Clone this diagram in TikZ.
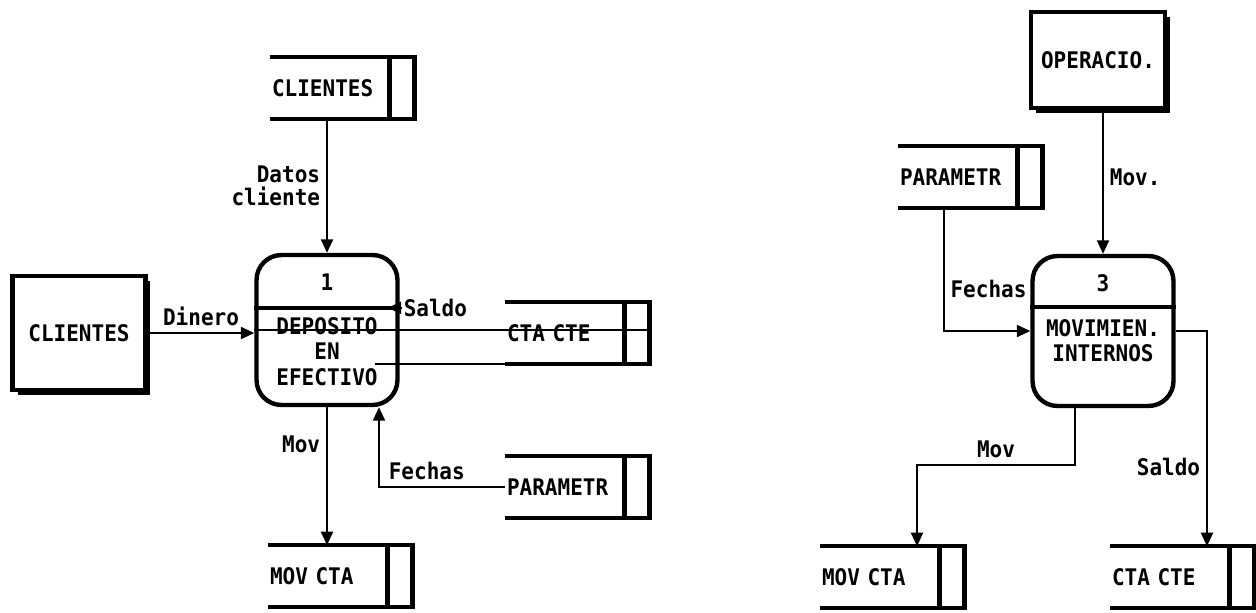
\documentclass[tikz,border=0pt]{standalone}
\usepackage{fontspec}
\newfontfamily\dfdfont[FakeStretch=0.92]{DejaVu Sans Mono}
\usetikzlibrary{arrows.meta, positioning, calc, shadows}

\begin{document}
\begin{tikzpicture}[
        x=0.02cm, y=-0.02cm,
        font=\dfdfont\bfseries\fontsize{13}{11.3}\selectfont,
        >={Triangle[length=0.27cm, width=0.24cm]},
        entity/.style={draw, line width=2.6pt, fill=white, minimum width=2.66cm, minimum height=2.28cm,
            drop shadow={shadow xshift=0.1cm, shadow yshift=-0.1cm, fill=black, opacity=1}},
        proc/.style={draw, line width=2.5pt, rounded corners=0.5cm, minimum width=2.82cm, minimum height=3cm},
        procline/.style={line width=2.5pt},
        procname/.style={align=center, inner sep=0pt, anchor=north, font=\dfdfont\bfseries\fontsize{13}{14.5}\selectfont},
        storeline/.style={line width=2.6pt},
        store/.style={minimum width=2.88cm, minimum height=1.22cm, text width=2.8cm, inner xsep=0.04cm, align=left,
            append after command={\pgfextra{
                \draw[storeline] (\tikzlastnode.north west) -- (\tikzlastnode.north east)
                    -- (\tikzlastnode.south east) -- (\tikzlastnode.south west);
                \draw[storeline] ([xshift=-0.5cm]\tikzlastnode.north east) -- ([xshift=-0.5cm]\tikzlastnode.south east);}}},
        flow/.style={->, line width=1.2pt},
        stray/.style={line width=1.2pt},
    ]
        \useasboundingbox (0,0) rectangle (1256,612);

        % diagram 1
        \node[entity] (cliEnt) at (79,333) {CLIENTES};
        \node[proc]   (depo)   at (327,330) {};
        \draw[procline] ([yshift=-1.1cm]depo.north west) -- ([yshift=-1.1cm]depo.north east);
        \node (depoNum) at ([yshift=-0.58cm]depo.north) {1};
        \node[procname] (depoTxt) at ([yshift=-1.28cm]depo.north) {DEPOSITO\\EN\\EFECTIVO};
        \coordinate (saldoTip) at ([yshift=-1.1cm]depo.north east);

        \node[store] (cliDS)  at (342,88)  {CLIENTES};
        \node[store] (ctaDS1) at (577,333) {CTA CTE};
        \node[store] (parDS1) at (577,487) {PARAMETR};
        \node[store] (movDS1) at (340,576) {MOV CTA};

        \draw[flow] (cliDS.south -| depo.north) -- (depo.north)
            node[midway, left, align=right] {Datos\\[2pt]cliente};
        \draw[flow] (cliEnt.east) -- (cliEnt.east -| depo.west) node[midway, above] {Dinero};
        \draw[flow] ([xshift=0.05cm]saldoTip) -- ([xshift=-0.24cm]saldoTip);
        \node[anchor=west, inner sep=1pt] (saldoLbl) at ([xshift=0.04cm]saldoTip) {Saldo};
        \draw[stray] (depo.west) -- (depo.west -| ctaDS1.east);
        \draw[stray] (ctaDS1.south west) -- ++(-130,0);
        \draw[flow] (depo.south) -- (depo.south |- movDS1.north) node[pos=0.27, left] {Mov};
        \draw[flow] (parDS1.west) -| ([xshift=1.04cm]depo.south) node[pos=0.31, above] {Fechas};

        % diagram 3
        \node[entity, minimum width=2.68cm, minimum height=1.92cm] (opEnt) at (1098,60) {OPERACIO.};
        \node[proc] (movint) at (1103,331) {};
        \draw[procline] ([yshift=-1.06cm]movint.north west) -- ([yshift=-1.06cm]movint.north east);
        \node (movintNum) at ([yshift=-0.58cm]movint.north) {3};
        \node[procname] (movintTxt) at ([yshift=-1.3cm]movint.north) {MOVIMIEN.\\INTERNOS};

        \node[store] (parDS2) at (970,177)  {PARAMETR};
        \node[store] (movDS2) at (892,577)  {MOV CTA};
        \node[store] (ctaDS2) at (1182,577) {CTA CTE};

        \draw[flow] (movint.north |- opEnt.south) -- (movint.north) node[pos=0.47, right] {Mov.};
        \draw[flow] ([xshift=0.92cm]parDS2.south west) |- (movint.west) node[pos=0.33, right] {Fechas};
        \draw[flow] ([xshift=-0.56cm]movint.south) -- ++(0,57) -| ([xshift=0.5cm]movDS2.north)
            node[pos=0.25, above] {Mov};
        \draw[flow] (movint.east) -| ([xshift=0.5cm]ctaDS2.north) node[pos=0.815, left] {Saldo};
    \end{tikzpicture}
\end{document}
